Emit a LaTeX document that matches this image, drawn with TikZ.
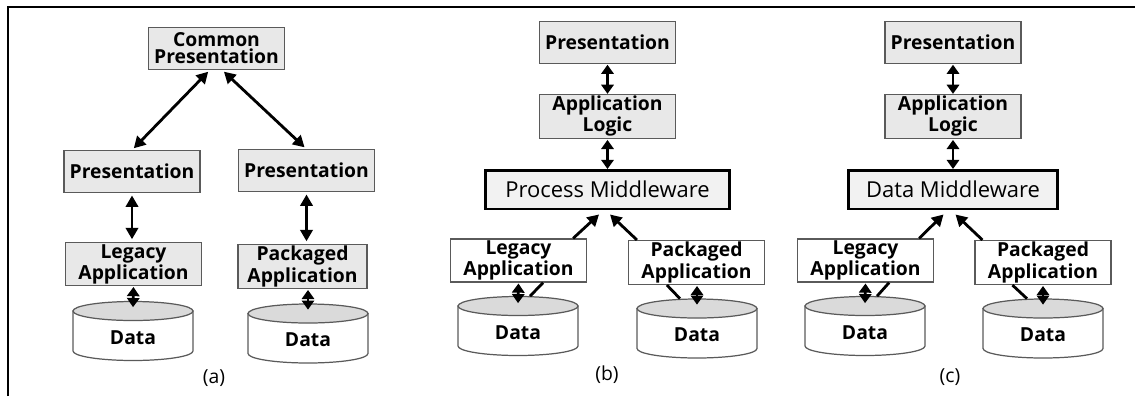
\documentclass[tikz,border=0pt]{standalone}
\usepackage{fontspec}
\setmainfont{Open Sans}
\usetikzlibrary{arrows.meta,positioning,calc}
\definecolor{boxGray}{RGB}{232,232,232}
\definecolor{edgeGray}{RGB}{90,90,90}
\definecolor{lidGray}{RGB}{218,218,218}

\begin{document}
\begin{tikzpicture}[
    x=0.02cm, y=-0.02cm,
    font=\fontsize{11}{9.6}\selectfont\bfseries,
    tier/.style={
        rectangle, draw=edgeGray, line width=0.7pt, fill=boxGray,
        minimum width=2.72cm, minimum height=0.83cm, inner sep=1pt, align=center
    },
    app/.style={tier, fill=white},
    mware/.style={
        rectangle, draw=black, line width=1.7pt, fill=black!5,
        minimum height=0.77cm, inner sep=1pt,
        font=\fontsize{12.5}{14}\selectfont\mdseries
    },
    % data store: the drum is painted inside the node's box
    store/.style={
        rectangle, minimum width=2.44cm, minimum height=1.22cm, inner sep=0pt, text height=15pt,
        path picture={
            \draw [fill=white, draw=edgeGray, line width=0.7pt]
                ([xshift=0.02cm, yshift=-0.21cm]path picture bounding box.north west)
                -- ([xshift=0.02cm, yshift=0.21cm]path picture bounding box.south west)
                arc [start angle=180, end angle=360, x radius=1.2cm, y radius=0.19cm]
                -- ([xshift=-0.02cm, yshift=-0.21cm]path picture bounding box.north east) -- cycle;
            \draw [fill=lidGray, draw=edgeGray, line width=0.7pt]
                ([yshift=-0.21cm]path picture bounding box.north) ellipse [x radius=1.2cm, y radius=0.19cm];
        }
    },
    tag/.style={font=\fontsize{11}{13}\selectfont\mdseries},
    dbl/.style={{Triangle[length=6.5pt,width=7pt]}-{Triangle[length=6.5pt,width=7pt]},
        line width=1.6pt, shorten <=1.5pt, shorten >=1.5pt},
    sdbl/.style={{Triangle[length=5.2pt,width=7pt]}-{Triangle[length=5.2pt,width=7pt]},
        line width=1.6pt, shorten <=0.5pt},
    arr/.style={-{Triangle[length=6.5pt,width=7pt]}, line width=1.6pt},
    lnk/.style={line width=1.6pt}
]
    \useasboundingbox (0,0) rectangle (1135,396);

    % outer frame (top and left edges only)
    \draw [line width=1.4pt] (8,396) -- (8,7) -- (1135,7);

    % (a) one presentation per application
    \node [tier] (acomm) at (216.5,48.5) {Common\\Presentation};
    \node [tier] (apresl) at (132,171.5) {Presentation};
    \node [tier] (apresr) at (306.5,170.5) {Presentation};
    \node [tier] (alegacy) at (133.5,264) {Legacy\\Application};
    \node [tier, minimum width=2.58cm] (apack) at (302.5,266.5) {Packaged\\Application};
    \node [store] (adatal) at (133,331) {Data};
    \node [store] (adatar) at (308,333.5) {Data};
    \node [tag] (acap) at (214,378) {(a)};

    \draw [dbl] ($(acomm.south)+(-6.5,0)$) -- (apresl.north);
    \draw [dbl] ($(acomm.south)+(5.5,0)$) -- (apresr.north);
    \draw [dbl] (apresl.south) -- (apresl.south |- alegacy.north);
    \draw [dbl] (apresr.south) -- (apresr.south |- apack.north);
    \draw [sdbl] (alegacy.south) -- ($(adatal.north)+(0,7)$);
    \draw [sdbl] (adatar.north |- apack.south) -- ($(adatar.north)+(0,7)$);

    % (b) process middleware
    \node [tier] (bpres) at (607.5,42.5) {Presentation};
    \node [tier, below=0.6cm of bpres] (blogic) {Application\\Logic};
    \node [mware, minimum width=4.9cm, below=0.6cm of blogic] (bmid) {Process Middleware};
    \node [app] (blegacy) at (518.5,260.5) {Legacy\\Application};
    \node [app] (bpack) at (696.5,262.5) {Packaged\\Application};
    \node [store] (bdatal) at (518,326) {Data};
    \node [store] (bdatar) at (697,328.5) {Data};
    \node [tag] (bcap) at (607,375) {(b)};

    \draw [sdbl] (bpres) -- (blogic);
    \draw [sdbl] (blogic.south) -- (blogic.south |- bmid.north);
    \draw [arr] ($(blegacy.north east)+(-14,0)$) -- ($(bmid.south)+(-8.5,4)$);
    \draw [arr] ($(bpack.north west)+(9,0)$) -- ($(bmid.south)+(2.5,4)$);
    \draw [lnk] ($(blegacy.south east)+(-44,0)$) -- ($(bdatal.north)+(12,1)$);
    \draw [lnk] ($(bpack.south west)+(39,0)$) -- ($(bdatar.north)+(-17,1)$);
    \draw [sdbl] (blegacy.south) -- ($(bdatal.north)+(0,8)$);
    \draw [sdbl] (bdatar.north |- bpack.south) -- ($(bdatar.north)+(0,7)$);

    % (c) data middleware
    \node [tier] (cpres) at (953,42.5) {Presentation};
    \node [tier, below=0.6cm of cpres] (clogic) {Application\\Logic};
    \node [mware, minimum width=4.18cm, below=0.6cm of clogic] (cmid) {Data Middleware};
    \node [app] (clegacy) at (865.5,260.5) {Legacy\\Application};
    \node [app] (cpack) at (1043,262.5) {Packaged\\Application};
    \node [store] (cdatal) at (865,326) {Data};
    \node [store] (cdatar) at (1043,328.5) {Data};
    \node [tag] (ccap) at (950,377) {(c)};

    \draw [sdbl] (cpres) -- (clogic);
    \draw [sdbl] (clogic) -- (cmid);
    \draw [arr] ($(clegacy.north east)+(-15,0)$) -- ($(cmid.south)+(-9.5,4)$);
    \draw [arr] ($(cpack.north west)+(8,0)$) -- ($(cmid.south)+(2.5,4)$);
    \draw [lnk] ($(clegacy.south east)+(-45,0)$) -- ($(cdatal.north)+(12,1)$);
    \draw [lnk] ($(cpack.south west)+(38,0)$) -- ($(cdatar.north)+(-16,1)$);
    \draw [sdbl] (clegacy.south) -- ($(cdatal.north)+(0,8)$);
    \draw [sdbl] (cdatar.north |- cpack.south) -- ($(cdatar.north)+(0,7)$);

\end{tikzpicture}
\end{document}
